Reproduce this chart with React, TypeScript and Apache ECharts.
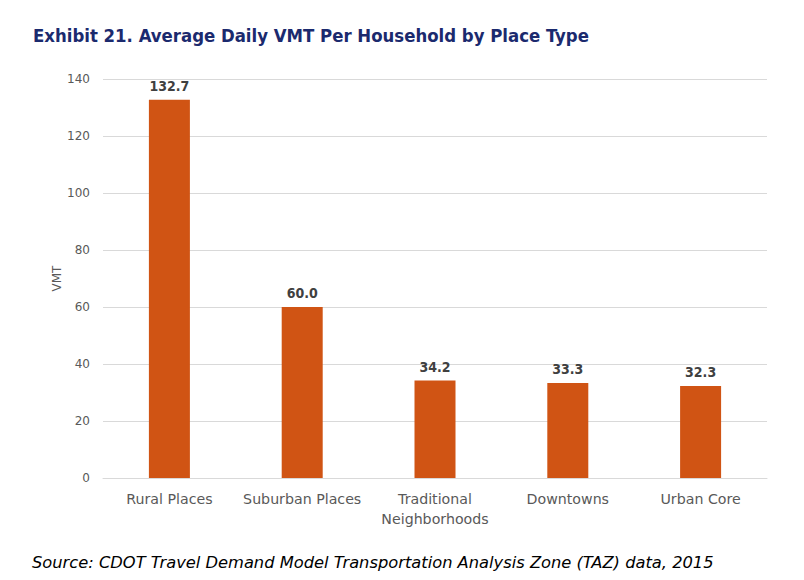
import React, { useEffect, useRef } from "react";
import * as echarts from "echarts";

const categories = ["Rural Places", "Suburban Places", "Traditional\nNeighborhoods", "Downtowns", "Urban Core"];
const values = [132.7, 60.0, 34.2, 33.3, 32.3];
const titleText = "Exhibit 21. Average Daily VMT Per Household by Place Type";
const sourceText = "Source: CDOT Travel Demand Model Transportation Analysis Zone (TAZ) data, 2015";

const FONT_C = "'DejaVu Sans Condensed', 'DejaVu Sans', sans-serif";
const FONT = "'DejaVu Sans', sans-serif";

export default function App() {
  const ref = useRef<HTMLDivElement>(null);
  useEffect(() => {
    if (!ref.current) return;
    const chart = echarts.init(ref.current, undefined, { renderer: "svg" });
    chart.setOption({
      animation: false,
      backgroundColor: "#ffffff",
      textStyle: { fontFamily: FONT },
      title: [
        {
          text: titleText,
          left: 28,
          top: 21,
          textStyle: { fontFamily: FONT_C, fontSize: 18.4, fontWeight: "bold", color: "#1B2A6E" },
        },
        {
          text: sourceText,
          left: 27,
          top: 549,
          textStyle: { fontFamily: FONT, fontSize: 16.3, fontWeight: "normal", fontStyle: "italic", color: "#000000" },
        },
      ],
      grid: { left: 103, right: 37, top: 79, bottom: 102, containLabel: false },
      xAxis: {
        type: "category",
        data: categories,
        axisLine: { show: true, lineStyle: { color: "#d9d9d9", width: 1 } },
        axisTick: { show: false },
        axisLabel: { interval: 0, color: "#595959", fontSize: 14.2, margin: 11, lineHeight: 20, fontFamily: FONT },
      },
      yAxis: {
        type: "value",
        min: 0,
        max: 140,
        interval: 20,
        name: "VMT",
        nameLocation: "middle",
        nameGap: 40,
        nameRotate: 90,
        nameMoveOverlap: false,
        nameTextStyle: { color: "#595959", fontSize: 12, fontFamily: FONT },
        axisLine: { show: false },
        axisTick: { show: false },
        axisLabel: { color: "#595959", fontSize: 12, margin: 13, fontFamily: FONT },
        splitLine: { lineStyle: { color: "#d9d9d9", width: 1 } },
      },
      series: [
        {
          type: "bar",
          data: values,
          barWidth: 41,
          itemStyle: { color: "#D05414" },
          label: {
            show: true,
            position: "top",
            distance: 7,
            color: "#404040",
            fontSize: 14,
            fontWeight: "bold",
            fontFamily: FONT_C,
            formatter: (p: any) => Number(p.value).toFixed(1),
          },
        },
      ],
    });
    return () => chart.dispose();
  }, []);
  return (
    <div
      ref={ref}
      style={{ position: "absolute", left: 0, top: 0, width: 804, height: 580 }}
    />
  );
}
